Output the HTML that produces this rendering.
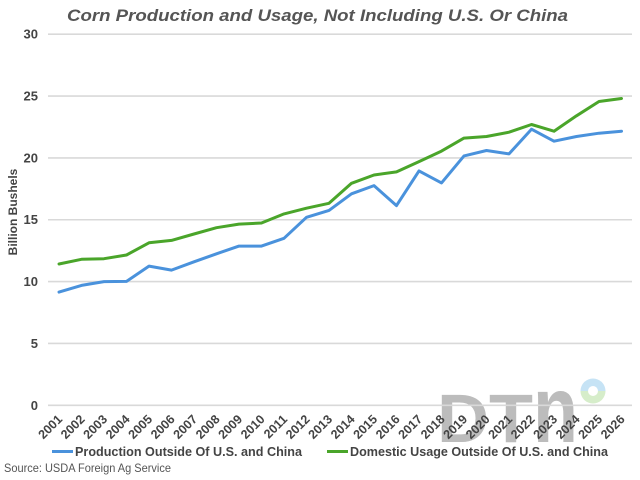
<!DOCTYPE html>
<html>
<head>
<meta charset="utf-8">
<style>
html,body{margin:0;padding:0;background:#fff;}
svg{display:block;}
text{font-family:"Liberation Sans",Arial,sans-serif;}
</style>
</head>
<body>
<svg width="640" height="480" viewBox="0 0 640 480" xmlns="http://www.w3.org/2000/svg">
<rect width="640" height="480" fill="#fff"/>

<!-- DTN logo -->
<g fill="#bcbcbc">
<text x="437" y="442" font-size="69" font-weight="bold" textLength="96" lengthAdjust="spacingAndGlyphs">DT</text>
<text transform="translate(533,442) scale(1,1.37)" font-size="69" font-weight="bold" textLength="45" lengthAdjust="spacingAndGlyphs">n</text>
</g>
<path d="M580.5 391 A12.5 12.5 0 0 1 605.5 391 L598 391 A5 5 0 0 0 588 391 Z" fill="#c6e3f5"/>
<path d="M580.5 391 A12.5 12.5 0 0 0 605.5 391 L598 391 A5 5 0 0 1 588 391 Z" fill="#d6edca"/>

<!-- Title -->
<text x="67" y="21" font-size="17" font-weight="bold" font-style="italic" fill="#555" textLength="501" lengthAdjust="spacingAndGlyphs">Corn Production and Usage, Not Including U.S. Or China</text>

<!-- Gridlines -->
<g stroke="#d9d9d9" stroke-width="1.6">
<line x1="48" y1="405.3" x2="632" y2="405.3"/>
<line x1="48" y1="343.45" x2="632" y2="343.45"/>
<line x1="48" y1="281.6" x2="632" y2="281.6"/>
<line x1="48" y1="219.75" x2="632" y2="219.75"/>
<line x1="48" y1="157.9" x2="632" y2="157.9"/>
<line x1="48" y1="96.05" x2="632" y2="96.05"/>
<line x1="48" y1="34.2" x2="632" y2="34.2"/>
</g>

<!-- Y tick labels -->
<g font-size="13" font-weight="bold" fill="#444" text-anchor="end">
<text x="38" y="410">0</text>
<text x="38" y="348">5</text>
<text x="38" y="286">10</text>
<text x="38" y="224">15</text>
<text x="38" y="162.5">20</text>
<text x="38" y="100.5">25</text>
<text x="38" y="38.7">30</text>
</g>

<!-- Y axis title -->
<text transform="translate(17,212) rotate(-90)" font-size="12" font-weight="bold" fill="#444" text-anchor="middle">Billion Bushels</text>

<!-- Series -->
<polyline fill="none" stroke="#4aa52a" stroke-width="3" stroke-linejoin="round" stroke-linecap="round"
points="59,264 81.5,259.3 104,258.7 126.5,255 149,242.8 171.5,240.4 194,234 216.5,227.7 239,224.1 261.5,223 284,213.9 306.5,208.2 329,203.3 351.5,183.3 374,175 396.5,171.9 419,161.6 441.5,151.1 464,138.1 486.5,136.5 509,132.2 531.5,124.5 554,131.2 576.5,115.8 599,101.5 621.5,98.5"/>
<polyline fill="none" stroke="#4a92dc" stroke-width="3" stroke-linejoin="round" stroke-linecap="round"
points="59,292.1 81.5,285.4 104,281.6 126.5,281.4 149,266.1 171.5,270.1 194,261.8 216.5,253.8 239,246.1 261.5,246.1 284,238.3 306.5,217.3 329,210.4 351.5,193.8 374,185.6 396.5,205.6 419,170.9 441.5,182.9 464,155.9 486.5,150.5 509,153.9 531.5,129.2 554,141.2 576.5,136.5 599,133.2 621.5,131.2"/>

<!-- X tick labels -->
<g font-size="12.5" font-weight="bold" fill="#444" text-anchor="end">
<text transform="translate(63,420) rotate(-45)">2001</text>
<text transform="translate(85.5,420) rotate(-45)">2002</text>
<text transform="translate(108,420) rotate(-45)">2003</text>
<text transform="translate(130.5,420) rotate(-45)">2004</text>
<text transform="translate(153,420) rotate(-45)">2005</text>
<text transform="translate(175.5,420) rotate(-45)">2006</text>
<text transform="translate(198,420) rotate(-45)">2007</text>
<text transform="translate(220.5,420) rotate(-45)">2008</text>
<text transform="translate(243,420) rotate(-45)">2009</text>
<text transform="translate(265.5,420) rotate(-45)">2010</text>
<text transform="translate(288,420) rotate(-45)">2011</text>
<text transform="translate(310.5,420) rotate(-45)">2012</text>
<text transform="translate(333,420) rotate(-45)">2013</text>
<text transform="translate(355.5,420) rotate(-45)">2014</text>
<text transform="translate(378,420) rotate(-45)">2015</text>
<text transform="translate(400.5,420) rotate(-45)">2016</text>
<text transform="translate(423,420) rotate(-45)">2017</text>
<text transform="translate(445.5,420) rotate(-45)">2018</text>
<text transform="translate(468,420) rotate(-45)">2019</text>
<text transform="translate(490.5,420) rotate(-45)">2020</text>
<text transform="translate(513,420) rotate(-45)">2021</text>
<text transform="translate(535.5,420) rotate(-45)">2022</text>
<text transform="translate(558,420) rotate(-45)">2023</text>
<text transform="translate(580.5,420) rotate(-45)">2024</text>
<text transform="translate(603,420) rotate(-45)">2025</text>
<text transform="translate(625.5,420) rotate(-45)">2026</text>
</g>

<!-- Legend -->
<line x1="52" y1="451.5" x2="73" y2="451.5" stroke="#4a92dc" stroke-width="3"/>
<text x="75" y="456" font-size="13" font-weight="bold" fill="#444" textLength="227" lengthAdjust="spacingAndGlyphs">Production Outside Of U.S. and China</text>
<line x1="327" y1="451.5" x2="348" y2="451.5" stroke="#4aa52a" stroke-width="3"/>
<text x="350" y="456" font-size="13" font-weight="bold" fill="#444" textLength="258" lengthAdjust="spacingAndGlyphs">Domestic Usage Outside Of U.S. and China</text>

<!-- Source -->
<text x="4" y="472" font-size="12" fill="#555" textLength="167" lengthAdjust="spacingAndGlyphs">Source: USDA Foreign Ag Service</text>
</svg>
</body>
</html>
